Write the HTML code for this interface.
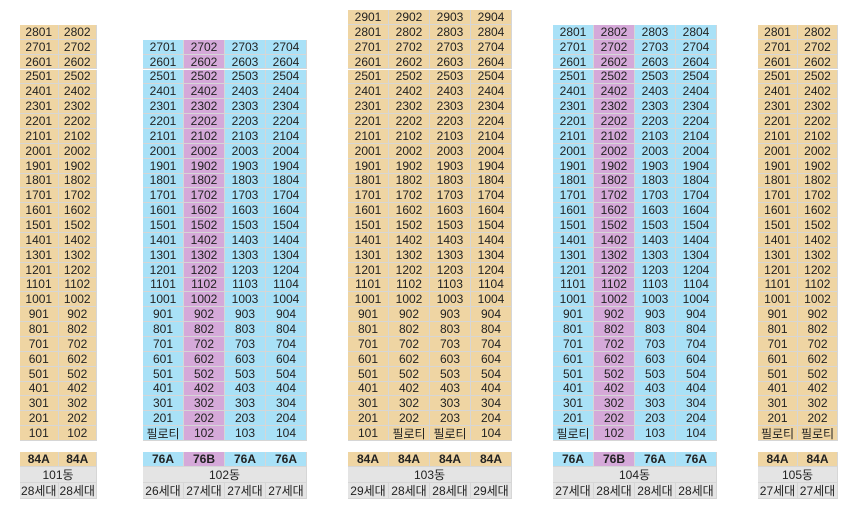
<!DOCTYPE html>
<html><head><meta charset="utf-8">
<style>
body{margin:0;background:#fff;width:860px;height:514px;position:relative;overflow:hidden;font-family:"Liberation Sans","Noto Sans CJK KR",sans-serif;}
.c{position:absolute;box-sizing:border-box;border-right:1px solid #d6d6d6;border-bottom:1px solid #d6d6d6;font-size:12px;color:#222;text-align:center;display:flex;align-items:center;justify-content:center;}
</style></head><body>
<script>
const buildings=[
 {name:'101동',x:20,w:77,floors:28,colors:['t','t'],pil:[],types:['84A','84A'],units:[28,28]},
 {name:'102동',x:143,w:164,floors:27,colors:['b','p','b','b'],pil:[0],types:['76A','76B','76A','76A'],units:[26,27,27,27]},
 {name:'103동',x:348,w:164,floors:29,colors:['t','t','t','t'],pil:[1,2],types:['84A','84A','84A','84A'],units:[29,28,28,29]},
 {name:'104동',x:553,w:164,floors:28,colors:['b','p','b','b'],pil:[0],types:['76A','76B','76A','76A'],units:[27,28,28,28]},
 {name:'105동',x:758,w:80,floors:28,colors:['t','t'],pil:[0,1],types:['84A','84A'],units:[27,27]}
];
const COL={t:'#efd5a3',b:'#a9e1f7',p:'#d5a9d9',g:'#e4e4e4'};
const RH=14.86,BOT=441;
function cell(x,y,w,h,txt,bg,name,extra){
 const d=document.createElement('div');
 d.className='c';
 d.style.left=x+'px';d.style.top=y+'px';d.style.width=w+'px';d.style.height=h+'px';
 d.style.background=bg;d.textContent=txt;
 if(extra)Object.assign(d.style,extra);
 
 
 document.body.appendChild(d);
}
buildings.forEach((b,bi)=>{
 const n=b.colors.length,cw=b.w/n;
 for(let f=1;f<=b.floors;f++){
  const y=BOT-f*RH;
  for(let c=0;c<n;c++){
   const t=(f===1&&b.pil.includes(c))?'필로티':(f*100+c+1);
   cell(b.x+c*cw,y,cw,RH,String(t),COL[b.colors[c]],'unit-cell');
  }
 }
 for(let c=0;c<n;c++){
  cell(b.x+c*cw,452,cw,15,b.types[c],COL[b.colors[c]],'unit-type-cell',{fontWeight:'bold'});
  cell(b.x+c*cw,483,cw,16,b.units[c]+'세대',COL.g,'household-count-cell');
 }
 cell(b.x,467,b.w,16,b.name,COL.g,'building-name-label');
});
</script>
</body></html>
